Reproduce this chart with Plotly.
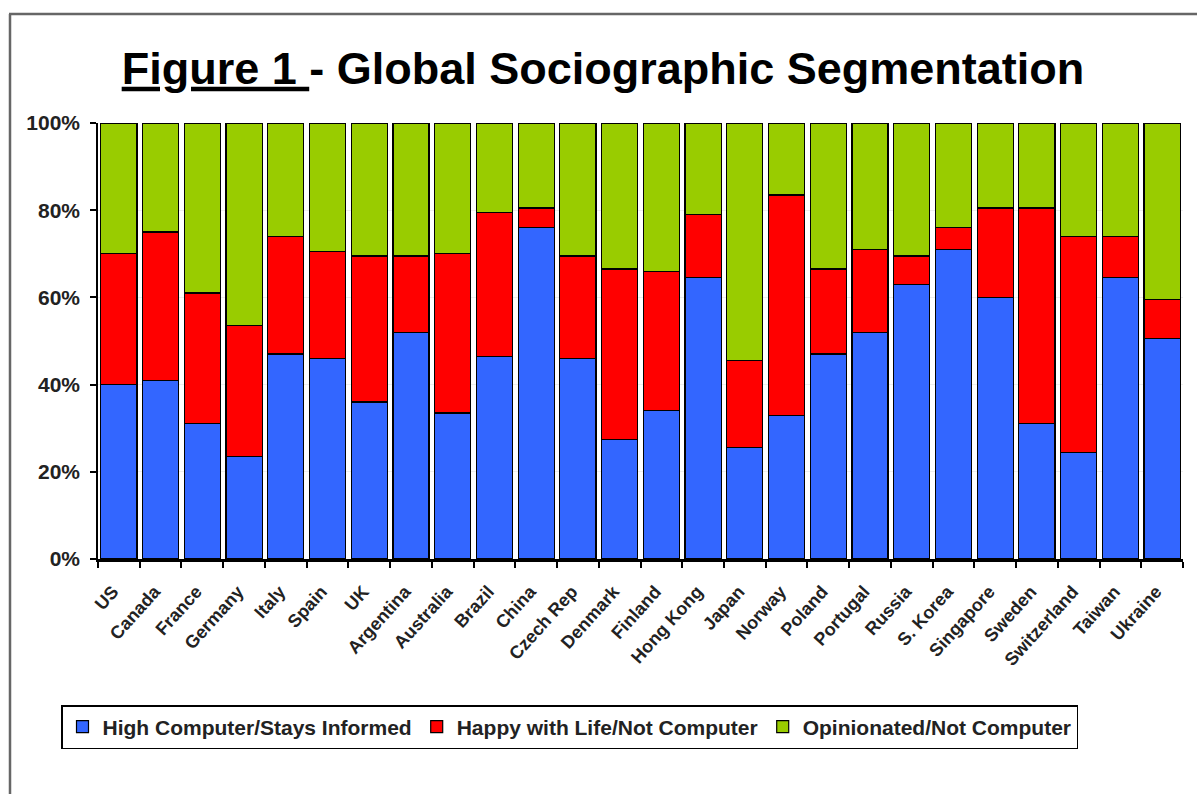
import plotly.graph_objects as go

countries = ["US", "Canada", "France", "Germany", "Italy", "Spain", "UK", "Argentina",
             "Australia", "Brazil", "China", "Czech Rep", "Denmark", "Finland", "Hong Kong",
             "Japan", "Norway", "Poland", "Portugal", "Russia", "S. Korea", "Singapore",
             "Sweden", "Switzerland", "Taiwan", "Ukraine"]

high_computer = [40, 41, 31, 23.5, 47, 46, 36, 52, 33.5, 46.5, 76, 46, 27.5, 34, 64.5,
                 25.5, 33, 47, 52, 63, 71, 60, 31, 24.5, 64.5, 50.5]
happy_with_life = [30, 34, 30, 30, 27, 24.5, 33.5, 17.5, 36.5, 33, 4.5, 23.5, 39, 32, 14.5,
                   20, 50.5, 19.5, 19, 6.5, 5, 20.5, 49.5, 49.5, 9.5, 9]
opinionated = [30, 25, 39, 46.5, 26, 29.5, 30.5, 30.5, 30, 20.5, 19.5, 30.5, 33.5, 34, 21,
               54.5, 16.5, 33.5, 29, 30.5, 24, 19.5, 19.5, 26, 26, 40.5]

series_names = ["High Computer/Stays Informed", "Happy with Life/Not Computer",
                "Opinionated/Not Computer"]
series_values = [high_computer, happy_with_life, opinionated]
series_colors = ["#3366FF", "#FF0000", "#99CC00"]

W, H = 1197, 794
L, R, T, B = 98, 14, 123, 235
pw, ph = W - L - R, H - T - B

def px_x(x):
    return (x - L) / pw

def px_y(y):
    return (H - B - y) / ph

fig = go.Figure()
for name, vals, col in zip(series_names, series_values, series_colors):
    fig.add_trace(go.Bar(
        x=countries, y=vals, name=name,
        marker=dict(color=col, line=dict(color="#000000", width=1.2)),
    ))

fig.update_layout(
    width=W, height=H,
    barmode="stack", bargap=0.135,
    margin=dict(l=L, r=R, t=T, b=B),
    paper_bgcolor="white", plot_bgcolor="white",
    font=dict(family="Liberation Sans, Arial, sans-serif", color="#222222"),
    title=dict(
        text="<b><u>Figure 1 </u>- Global Sociographic Segmentation</b>",
        x=603 / W, xanchor="center", y=1 - 68 / H, yanchor="middle",
        font=dict(size=45, color="#000000"),
    ),
    showlegend=True,
    legend=dict(
        orientation="h", x=px_x(61), xanchor="left", y=px_y(705), yanchor="top",
        bordercolor="#000000", borderwidth=1.5, bgcolor="white",
        font=dict(size=21, color="#222222", family="Liberation Sans, Arial, sans-serif", weight="bold"),
        traceorder="normal", itemwidth=30,
    ),
    xaxis=dict(
        type="category", tickangle=-48, tickson="boundaries",
        ticks="outside", ticklen=6, tickcolor="#000000", tickwidth=1.5,
        showline=True, linecolor="#000000", linewidth=3,
        tickfont=dict(size=18, color="#222222", weight="bold"),
        ticklabelstandoff=12, ticklabelshift=-6,
        showgrid=False,
    ),
    yaxis=dict(
        range=[0, 100], dtick=20, ticksuffix="%",
        ticks="outside", ticklen=6, tickcolor="#000000", tickwidth=1.5,
        showline=True, linecolor="#000000", linewidth=1.5,
        tickfont=dict(size=21, color="#222222", weight="bold"),
        ticklabelstandoff=6,
        showgrid=True, gridcolor="#eeeeee", zeroline=False,
    ),
    shapes=[
        dict(type="line", xref="paper", yref="paper",
             x0=px_x(9), x1=px_x(W), y0=px_y(14), y1=px_y(14),
             line=dict(color="#666666", width=2.5)),
        dict(type="line", xref="paper", yref="paper",
             x0=px_x(10), x1=px_x(10), y0=px_y(14), y1=px_y(H),
             line=dict(color="#666666", width=2.5)),
    ],
)

fig.write_html("out.html")
